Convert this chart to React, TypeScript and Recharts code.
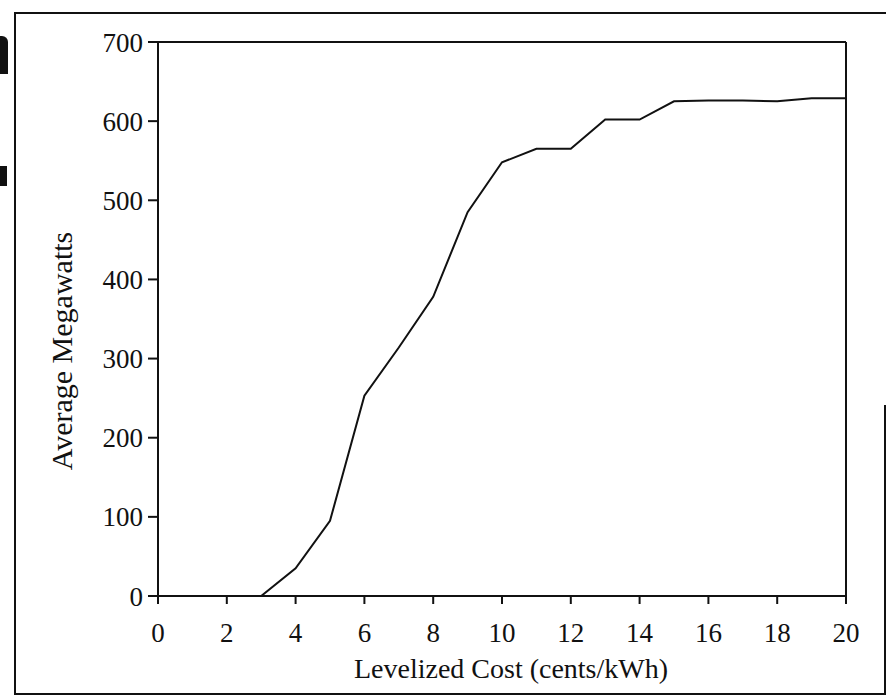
import React from "react";
import {
  LineChart,
  Line,
  XAxis,
  YAxis,
  ReferenceLine,
} from "recharts";

// levelized cost (cents/kWh) vs average megawatts available
const costs = [0, 1, 2, 3, 4, 5, 6, 7, 8, 9, 10, 11, 12, 13, 14, 15, 16, 17, 18, 19, 20];
const megawatts = [0, 0, 0, 0, 35, 95, 253, 314, 378, 485, 548, 565, 565, 602, 602, 625, 626, 626, 625, 629, 629];

const xTicks = [0, 2, 4, 6, 8, 10, 12, 14, 16, 18, 20];
const yTicks = [0, 100, 200, 300, 400, 500, 600, 700];

const data = costs.map((c, i) => ({ cost: c, mw: megawatts[i] }));

const FONT = "'Liberation Serif', 'Times New Roman', serif";
const INK = "#111";

export default function App() {
  return (
    <div
      style={{
        position: "absolute",
        left: 0,
        top: 0,
        width: 886,
        height: 696,
        background: "#fff",
        overflow: "hidden",
        fontFamily: FONT,
      }}
    >
      {/* scanned page frame */}
      <div
        style={{
          position: "absolute",
          left: 14,
          top: 12,
          width: 900,
          height: 679,
          borderLeft: `2px solid ${INK}`,
          borderTop: `2px solid ${INK}`,
          borderBottom: `2px solid ${INK}`,
        }}
      />
      <div
        style={{
          position: "absolute",
          left: 884,
          top: 405,
          width: 2,
          height: 288,
          background: INK,
        }}
      />
      {/* bits of the neighbouring page */}
      <div style={{ position: "absolute", left: 0, top: 36, width: 8, height: 38, background: INK, borderTopRightRadius: 6 }} />
      <div style={{ position: "absolute", left: 0, top: 166, width: 7, height: 20, background: INK }} />

      <LineChart
        width={886}
        height={696}
        data={data}
        margin={{ top: 42, right: 40, bottom: 0, left: 0 }}
        style={{ position: "absolute", left: 0, top: 0 }}
      >
        <XAxis
          dataKey="cost"
          type="number"
          domain={[0, 20]}
          ticks={xTicks}
          interval={0}
          height={100}
          tickSize={8}
          tickMargin={19}
          stroke={INK}
          strokeWidth={2}
          tick={{ fill: INK, fontSize: 27, fontFamily: FONT }}
          label={{
            value: "Levelized Cost (cents/kWh)",
            position: "center",
            dx: 9,
            dy: 22,
            style: { fill: INK, fontSize: 28, fontFamily: FONT },
          }}
        />
        <YAxis
          type="number"
          domain={[0, 700]}
          ticks={yTicks}
          interval={0}
          width={158}
          tickSize={10}
          tickMargin={5}
          stroke={INK}
          strokeWidth={2}
          tick={{ fill: INK, fontSize: 27, fontFamily: FONT }}
          label={{
            value: "Average Megawatts",
            position: "center",
            angle: -90,
            dx: -18,
            dy: 32,
            style: { fill: INK, fontSize: 30, fontFamily: FONT },
          }}
        />
        <ReferenceLine y={700} stroke={INK} strokeWidth={2} ifOverflow="visible" />
        <ReferenceLine x={20} stroke={INK} strokeWidth={2} ifOverflow="visible" />
        <Line
          type="linear"
          dataKey="mw"
          stroke={INK}
          strokeWidth={2}
          dot={false}
          isAnimationActive={false}
        />
      </LineChart>
    </div>
  );
}
